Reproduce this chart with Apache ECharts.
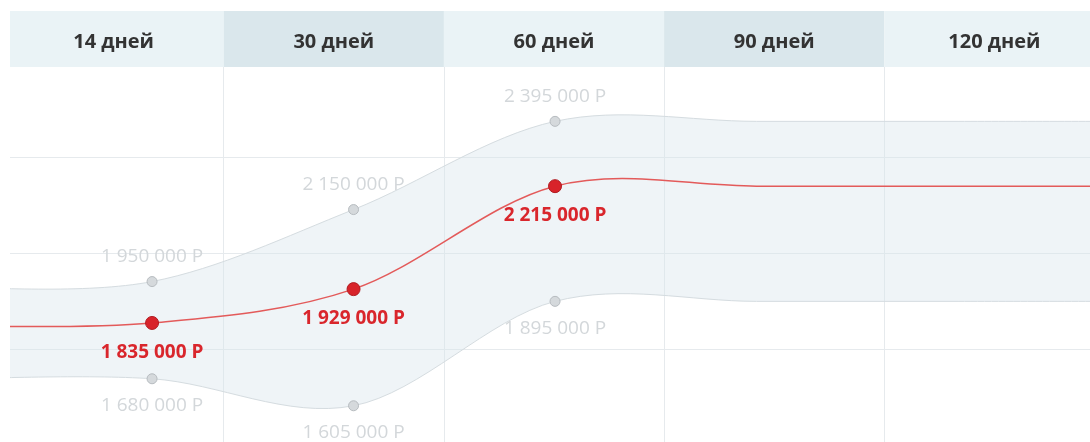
<!DOCTYPE html>
<html>
<head>
<meta charset="utf-8">
<script src="https://cdn.jsdelivr.net/npm/echarts@6/dist/echarts.min.js"></script>
<style>
  html, body { margin: 0; padding: 0; background: #fff; }
  #price-chart { width: 1090px; height: 442px; }
</style>
</head>
<body>
<div id="price-chart"></div>
<script>
// header periods
const periods = ['14 дней', '30 дней', '60 дней', '90 дней', '120 дней'];
// point slots along the curve: 0..2 = 14 / 30 / 60 дней, the rest only carry the curve past the edges
const pointPos = [-1, 0, 1, 2, 3, 4, 5];
const priceMid = [1826000, 1835000, 1929000, 2215000, 2215000, 2215000, 2215000];
const priceHigh = [1933000, 1950000, 2150000, 2395000, 2395000, 2395000, 2395000];
const priceLow = [1680000, 1680000, 1605000, 1895000, 1895000, 1895000, 1895000];
const labelled = [false, true, true, true, false, false, false];

const FONT = '"Open Sans", "Noto Sans", sans-serif';

function money(v) {
  return String(v).replace(/\B(?=(\d{3})+(?!\d))/g, ' ') + ' Р';
}

// catmull-rom through the points -> svg path commands
function splinePath(pts, start) {
  let d = start ? 'M' + pts[0][0] + ' ' + pts[0][1] : 'L' + pts[0][0] + ' ' + pts[0][1];
  for (let i = 0; i < pts.length - 1; i++) {
    const p0 = pts[i - 1] || pts[i];
    const p1 = pts[i];
    const p2 = pts[i + 1];
    const p3 = pts[i + 2] || p2;
    const c1x = p1[0] + (p2[0] - p0[0]) / 6;
    const c1y = p1[1] + (p2[1] - p0[1]) / 6;
    const c2x = p2[0] - (p3[0] - p1[0]) / 6;
    const c2y = p2[1] - (p3[1] - p1[1]) / 6;
    d += ' C' + c1x + ' ' + c1y + ' ' + c2x + ' ' + c2y + ' ' + p2[0] + ' ' + p2[1];
  }
  return d;
}

function collect(api, n, dim) {
  const pts = [];
  for (let i = 0; i < n; i++) {
    pts.push(api.coord([api.value(0, i), api.value(dim, i)]));
  }
  return pts;
}

function renderBand(params, api) {
  if (params.dataIndexInside !== 0) return;
  const n = params.dataInsideLength;
  const low = collect(api, n, 1);
  const high = collect(api, n, 2);
  const upper = splinePath(high, true);
  const lower = splinePath(low, true);
  const area = upper + ' ' + splinePath(low.slice().reverse(), false) + ' Z';
  return {
    type: 'group',
    children: [
      { type: 'path', shape: { pathData: area }, style: { fill: 'rgba(216, 228, 235, 0.42)', stroke: null } },
      { type: 'path', shape: { pathData: upper }, style: { fill: null, stroke: '#d5dce0', lineWidth: 1 } },
      { type: 'path', shape: { pathData: lower }, style: { fill: null, stroke: '#d5dce0', lineWidth: 1 } }
    ]
  };
}

function renderMid(params, api) {
  if (params.dataIndexInside !== 0) return;
  const pts = collect(api, params.dataInsideLength, 1);
  return {
    type: 'path',
    shape: { pathData: splinePath(pts, true) },
    style: { fill: null, stroke: '#e35a5a', lineWidth: 1.5 }
  };
}

function markers(values) {
  const out = [];
  pointPos.forEach((x, i) => {
    if (labelled[i]) out.push([x, values[i]]);
  });
  return out;
}

const grayLabel = {
  show: true,
  color: '#d3d7da',
  fontFamily: FONT,
  fontSize: 19
};
const grayItem = { color: '#d5d9dc', borderColor: '#b7bcc0', borderWidth: 1, opacity: 1 };

let option = {
  animation: false,
  backgroundColor: '#fff',
  grid: [
    { left: 10, right: 0, top: 67, height: 378, outerBoundsMode: 'none' },          // data
    { left: 3.5, right: -14.5, top: 67, bottom: 0, outerBoundsMode: 'none' },       // vertical lines
    { left: 3.5, right: -14.5, top: 11, height: 56, outerBoundsMode: 'none' }       // header
  ],
  xAxis: [
    { type: 'value', gridIndex: 0, min: -0.705, max: 4.655, show: false },
    {
      type: 'category', gridIndex: 1, data: periods,
      axisLine: { show: false }, axisTick: { show: false }, axisLabel: { show: false },
      splitLine: {
        show: true, interval: 0, showMinLine: false, showMaxLine: false,
        lineStyle: { color: '#e6eaed', width: 1 }
      }
    },
    {
      type: 'category', gridIndex: 2, data: periods, position: 'bottom',
      axisLine: { show: false }, axisTick: { show: false },
      axisLabel: {
        interval: 0, inside: true, margin: 15,
        color: '#333', fontFamily: FONT, fontWeight: 'bold', fontSize: 20
      },
      splitLine: { show: false },
      splitArea: { show: true, interval: 0, areaStyle: { color: ['#eaf3f6', '#dae7ec'] } }
    }
  ],
  yAxis: [
    { type: 'value', gridIndex: 0, min: 1496000, max: 2546000, show: false },
    {
      type: 'value', gridIndex: 0, min: 0, max: 378, interval: 96,
      axisLine: { show: false }, axisTick: { show: false }, axisLabel: { show: false },
      splitLine: {
        show: true, showMinLine: false, showMaxLine: false,
        lineStyle: { color: '#e6eaed', width: 1 }
      }
    },
    { type: 'value', gridIndex: 1, show: false },
    { type: 'value', gridIndex: 2, show: false }
  ],
  graphic: [
    { type: 'rect', left: 0, top: 0, z: 100, shape: { width: 10, height: 442 }, style: { fill: '#fff' } }
  ],
  series: [
    {
      name: 'band',
      type: 'custom',
      xAxisIndex: 0, yAxisIndex: 0,
      renderItem: renderBand,
      encode: { x: 0, y: [1, 2] },
      data: pointPos.map((x, i) => [x, priceLow[i], priceHigh[i]]),
      z: 2
    },
    {
      name: 'mid-line',
      type: 'custom',
      xAxisIndex: 0, yAxisIndex: 0,
      renderItem: renderMid,
      encode: { x: 0, y: 1 },
      data: pointPos.map((x, i) => [x, priceMid[i]]),
      z: 3
    },
    {
      name: 'low',
      type: 'scatter',
      xAxisIndex: 0, yAxisIndex: 0,
      data: markers(priceLow),
      symbolSize: 10,
      itemStyle: grayItem,
      label: Object.assign({}, grayLabel, {
        position: 'bottom', distance: 12,
        formatter: p => money(p.value[1])
      }),
      z: 4
    },
    {
      name: 'high',
      type: 'scatter',
      xAxisIndex: 0, yAxisIndex: 0,
      data: markers(priceHigh),
      symbolSize: 10,
      itemStyle: grayItem,
      label: Object.assign({}, grayLabel, {
        position: 'top', distance: 10,
        formatter: p => money(p.value[1])
      }),
      z: 4
    },
    {
      name: 'mid',
      type: 'scatter',
      xAxisIndex: 0, yAxisIndex: 0,
      data: markers(priceMid),
      symbolSize: 13,
      itemStyle: { color: '#d8232a', borderColor: '#b01c22', borderWidth: 1, opacity: 1 },
      label: {
        show: true, position: 'bottom', distance: 13,
        color: '#d9262c', fontFamily: FONT, fontWeight: 'bold', fontSize: 19,
        formatter: p => money(p.value[1])
      },
      z: 5
    }
  ]
};

let chart = echarts.init(document.getElementById('price-chart'));
chart.setOption(option);
window.addEventListener('resize', () => {
  chart.resize();
});
</script>
</body>
</html>
